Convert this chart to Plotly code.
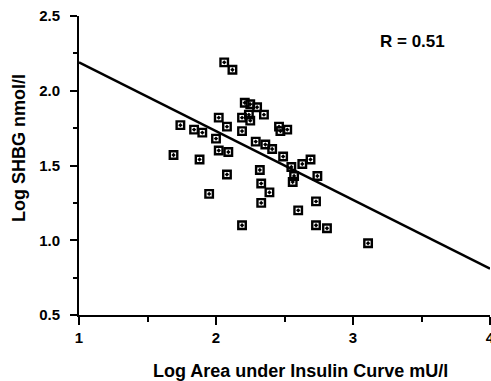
import plotly.graph_objects as go

# Scatter data: log area under insulin curve (x) vs log SHBG (y)
log_insulin = [1.69, 1.74, 1.84, 1.90, 1.88, 2.00, 2.02, 2.09, 2.06, 2.12,
               2.02, 2.08, 2.08, 1.95, 2.19, 2.21, 2.25, 2.30, 2.35, 2.19,
               2.24, 2.25, 2.19, 2.46, 2.47, 2.52, 2.29, 2.36, 2.41, 2.49,
               2.55, 2.63, 2.69, 2.57, 2.56, 2.74, 2.32, 2.33, 2.39, 2.33,
               2.60, 2.73, 2.73, 2.81, 3.11]
log_shbg = [1.57, 1.77, 1.74, 1.72, 1.54, 1.68, 1.60, 1.59, 2.19, 2.14,
            1.82, 1.76, 1.44, 1.31, 1.10, 1.92, 1.91, 1.89, 1.84, 1.82,
            1.84, 1.80, 1.73, 1.76, 1.73, 1.74, 1.66, 1.64, 1.61, 1.56,
            1.49, 1.51, 1.54, 1.43, 1.39, 1.43, 1.47, 1.38, 1.32, 1.25,
            1.20, 1.26, 1.10, 1.08, 0.98]

# Regression line end points
fit_x = [1.0, 4.0]
fit_y = [2.19, 0.81]

x_ticks = [1, 2, 3, 4]
x_tick_labels = ["1", "2", "3", "4"]
y_ticks = [0.5, 1.0, 1.5, 2.0, 2.5]
y_tick_labels = ["0.5", "1.0", "1.5", "2.0", "2.5"]

font_family = "Liberation Sans, Arial, sans-serif"

fig = go.Figure()
fig.add_trace(go.Scatter(
    x=fit_x, y=fit_y, mode="lines",
    line=dict(color="black", width=2.5),
    hoverinfo="skip", showlegend=False,
))
fig.add_trace(go.Scatter(
    x=log_insulin, y=log_shbg, mode="markers",
    marker=dict(symbol="square-open-dot", size=7.5, color="black",
                line=dict(color="black", width=2.4)),
    showlegend=False, cliponaxis=False,
))

fig.update_layout(
    width=491, height=381,
    margin=dict(l=79, r=1, t=16, b=66),
    plot_bgcolor="white", paper_bgcolor="white",
    font=dict(family=font_family, color="black", size=15, weight="bold"),
    xaxis=dict(
        range=[1, 4], tickvals=x_ticks, ticktext=x_tick_labels,
        showline=True, linecolor="black", linewidth=2,
        ticks="outside", ticklen=8, tickwidth=2, tickcolor="black",
        minor=dict(dtick=0.5, ticks="outside", ticklen=5, tickwidth=2, tickcolor="black"),
        showgrid=False, zeroline=False, automargin=False,
        tickfont=dict(family=font_family, size=15, weight="bold"),
        ticklabeloverflow="allow",
    ),
    yaxis=dict(
        range=[0.5, 2.5], tickvals=y_ticks, ticktext=y_tick_labels,
        showline=True, linecolor="black", linewidth=2,
        ticks="outside", ticklen=7, tickwidth=2, tickcolor="black",
        minor=dict(dtick=0.25, ticks="outside", ticklen=4, tickwidth=2, tickcolor="black"),
        showgrid=False, zeroline=False, automargin=False,
        tickfont=dict(family=font_family, size=15, weight="bold"),
        ticklabelstandoff=7,
    ),
    annotations=[
        dict(text="Log Area under Insulin Curve mU/l", xref="paper", yref="paper",
             x=(300 - 79) / 411, y=-(371 - 315) / 299, xanchor="center", yanchor="middle",
             showarrow=False, font=dict(family=font_family, size=18, weight="bold")),
        dict(text="Log SHBG nmol/l", xref="paper", yref="paper", textangle=-90,
             x=(19 - 79) / 411, y=(315 - 148) / 299, xanchor="center", yanchor="middle",
             showarrow=False, font=dict(family=font_family, size=18, weight="bold")),
        dict(text="R = 0.51", xref="paper", yref="paper",
             x=(412 - 79) / 411, y=(315 - 41) / 299, xanchor="center", yanchor="middle",
             showarrow=False, font=dict(family=font_family, size=17, weight="bold")),
    ],
)

fig.write_html("out.html")
